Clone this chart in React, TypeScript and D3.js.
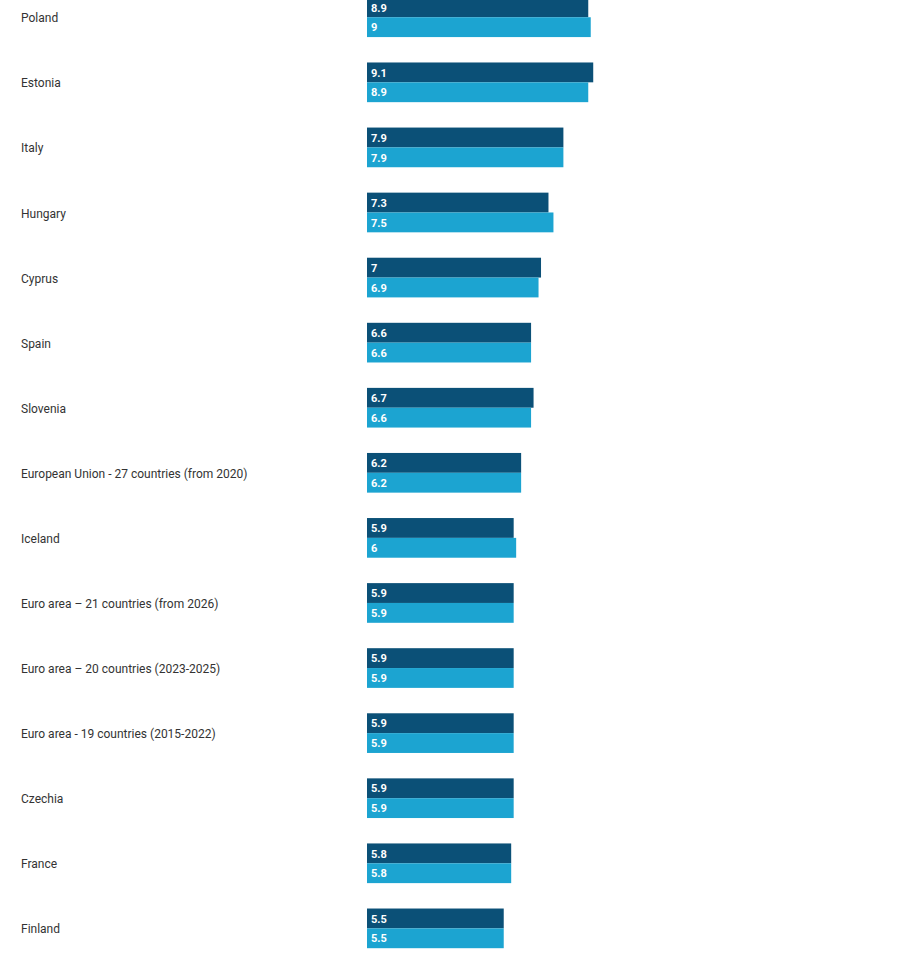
import React from "react";
import * as d3 from "d3";

const categories = [
  "Poland",
  "Estonia",
  "Italy",
  "Hungary",
  "Cyprus",
  "Spain",
  "Slovenia",
  "European Union - 27 countries (from 2020)",
  "Iceland",
  "Euro area – 21 countries (from 2026)",
  "Euro area – 20 countries (2023-2025)",
  "Euro area - 19 countries (2015-2022)",
  "Czechia",
  "France",
  "Finland",
];
const seriesA = [8.9, 9.1, 7.9, 7.3, 7, 6.6, 6.7, 6.2, 5.9, 5.9, 5.9, 5.9, 5.9, 5.8, 5.5];
const seriesB = [9, 8.9, 7.9, 7.5, 6.9, 6.6, 6.6, 6.2, 6, 5.9, 5.9, 5.9, 5.9, 5.8, 5.5];
const seriesKeys = ["a", "b"];
const seriesColors = ["#0b5077", "#1ca4d1"];

const W = 900;
const H = 965;

export default function App() {
  const x = d3.scaleLinear().domain([0, 10]).range([367, 367 + 248.6]);
  const step = 65.08;
  const gap = 25.4;
  const start = -2.6;
  const y0 = d3
    .scaleBand<string>()
    .domain(categories)
    .range([start, start + step * categories.length - gap])
    .paddingInner(gap / step)
    .paddingOuter(0);
  const y1 = d3.scaleBand<string>().domain(seriesKeys).range([0, y0.bandwidth()]);
  const values = [seriesA, seriesB];

  return (
    <svg
      width={W}
      height={H}
      style={{ position: "absolute", left: 0, top: 0, background: "#fff" }}
      fontFamily="Roboto, 'Noto Sans', sans-serif"
    >
      {categories.map((c, i) => {
        const gy = y0(c) as number;
        return (
          <g key={c}>
            <text x={21} y={gy + y0.bandwidth() / 2} dy="0.42em" fontSize={12} fill="#333">
              {c}
            </text>
            {seriesKeys.map((k, j) => {
              const v = values[j][i];
              const by = gy + (y1(k) as number);
              return (
                <g key={k}>
                  <rect
                    x={x(0)}
                    y={by}
                    width={x(v) - x(0)}
                    height={y1.bandwidth()}
                    fill={seriesColors[j]}
                  />
                  <text
                    x={x(0) + 4}
                    y={by + y1.bandwidth() / 2}
                    dy="0.38em"
                    fontSize={11}
                    fontWeight="bold"
                    fill="#fff"
                  >
                    {String(v)}
                  </text>
                </g>
              );
            })}
          </g>
        );
      })}
    </svg>
  );
}
